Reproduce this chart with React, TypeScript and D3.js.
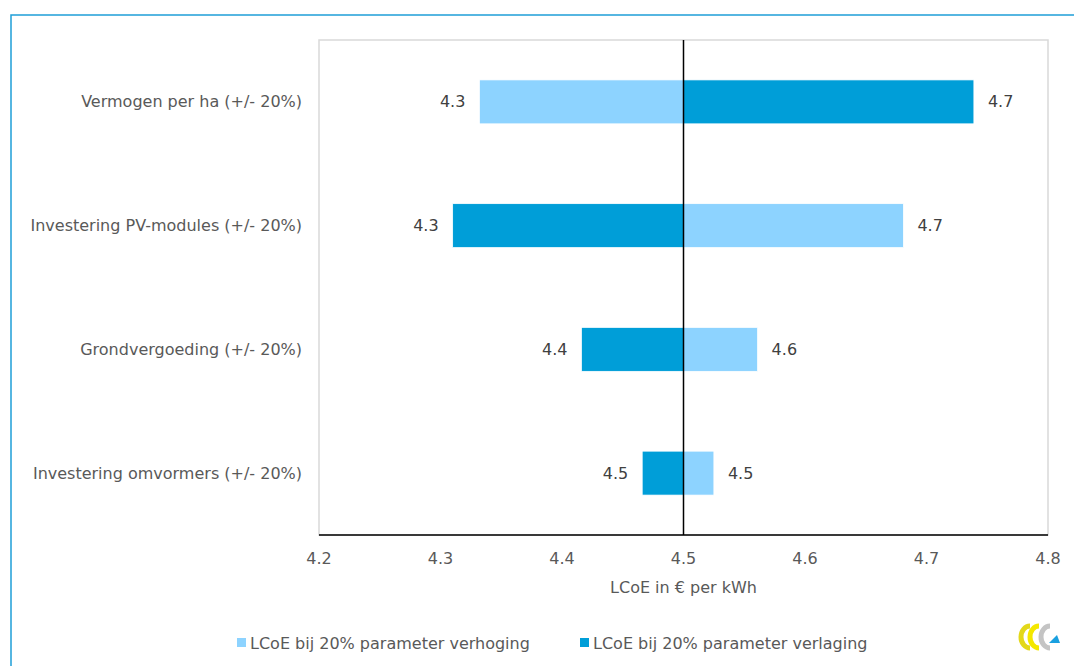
import React from "react";
import * as d3 from "d3";

const categories = [
  "Vermogen per ha (+/- 20%)",
  "Investering PV-modules (+/- 20%)",
  "Grondvergoeding (+/- 20%)",
  "Investering omvormers (+/- 20%)",
];
const baseValue = 4.5;
const verhoging = [4.332, 4.681, 4.561, 4.525];
const verlaging = [4.739, 4.31, 4.416, 4.466];
const xTicks = [4.2, 4.3, 4.4, 4.5, 4.6, 4.7, 4.8];
const seriesNames = ["LCoE bij 20% parameter verhoging", "LCoE bij 20% parameter verlaging"];
const colors = ["#8dd3ff", "#009ed8"];

export default function App() {
  const W = 1074, H = 666;
  const left = 319, right = 1048, top = 40, bottom = 535;
  const x = d3.scaleLinear().domain([4.2, 4.8]).range([left, right]);
  const y = d3.scaleBand().domain(categories).range([top, bottom]).paddingInner(0.645).paddingOuter(0.3225);
  const font = "'DejaVu Sans', Verdana, sans-serif";
  const txt = "#595959";
  const fs = 16;
  const series = [verhoging, verlaging];
  return (
    <svg width={W} height={H} style={{ position: "absolute", left: 0, top: 0 }} fontFamily={font}>
      <rect x={0} y={0} width={W} height={H} fill="#fff" />
      <path d={`M11,${H} L11,15 L${W},15`} fill="none" stroke="#1f9fd8" strokeWidth={1.5} />
      <rect x={left} y={top} width={right - left} height={bottom - top} fill="none" stroke="#d9d9d9" strokeWidth={1.5} />
      {categories.map((c, i) => {
        const yy = y(c)!;
        const bw = y.bandwidth();
        return (
          <g key={c}>
            <text x={302} y={yy + bw / 2} dy="0.35em" textAnchor="end" fontSize={fs} fill={txt}>{c}</text>
            {series.map((s, j) => {
              const v = s[i];
              const x0 = Math.min(x(v), x(baseValue));
              const x1 = Math.max(x(v), x(baseValue));
              const isLeft = v < baseValue;
              return (
                <g key={j}>
                  <rect x={x0} y={yy} width={x1 - x0} height={bw} fill={colors[j]} stroke="#fff" strokeWidth={0.75} />
                  <text x={isLeft ? x0 - 14 : x1 + 14} y={yy + bw / 2} dy="0.35em" textAnchor={isLeft ? "end" : "start"} fontSize={fs} fill="#404040">{d3.format(".1f")(v)}</text>
                </g>
              );
            })}
          </g>
        );
      })}
      <line x1={x(baseValue)} x2={x(baseValue)} y1={top} y2={bottom} stroke="#000" strokeWidth={1.5} />
      <line x1={left} x2={right} y1={bottom} y2={bottom} stroke="#000" strokeWidth={1.5} />
      {xTicks.map((t) => (
        <text key={t} x={x(t)} y={558} dy="0.35em" textAnchor="middle" fontSize={fs} fill={txt}>{d3.format(".1f")(t)}</text>
      ))}
      <text x={x(4.5)} y={587} dy="0.35em" textAnchor="middle" fontSize={fs} fill={txt}>LCoE in € per kWh</text>
      {seriesNames.map((n, j) => {
        const lx = [237, 580][j];
        return (
          <g key={n}>
            <rect x={lx} y={638} width={9} height={9} fill={colors[j]} />
            <text x={lx + 13} y={643} dy="0.35em" fontSize={fs} fill={txt}>{n}</text>
          </g>
        );
      })}
      <g fill="none" strokeWidth={5}>
        <path d="M1030,626 A9,11 0 0 0 1030,648" stroke="#e3d81a" />
        <path d="M1039,626 A9,11 0 0 0 1039,648" stroke="#f4e800" />
        <path d="M1050,626 A9,11 0 0 0 1050,648" stroke="#c4c4c4" />
        <path d="M1049,643 L1057,635 L1060,643 Z" fill="#1aa0e0" stroke="none" />
      </g>
    </svg>
  );
}
